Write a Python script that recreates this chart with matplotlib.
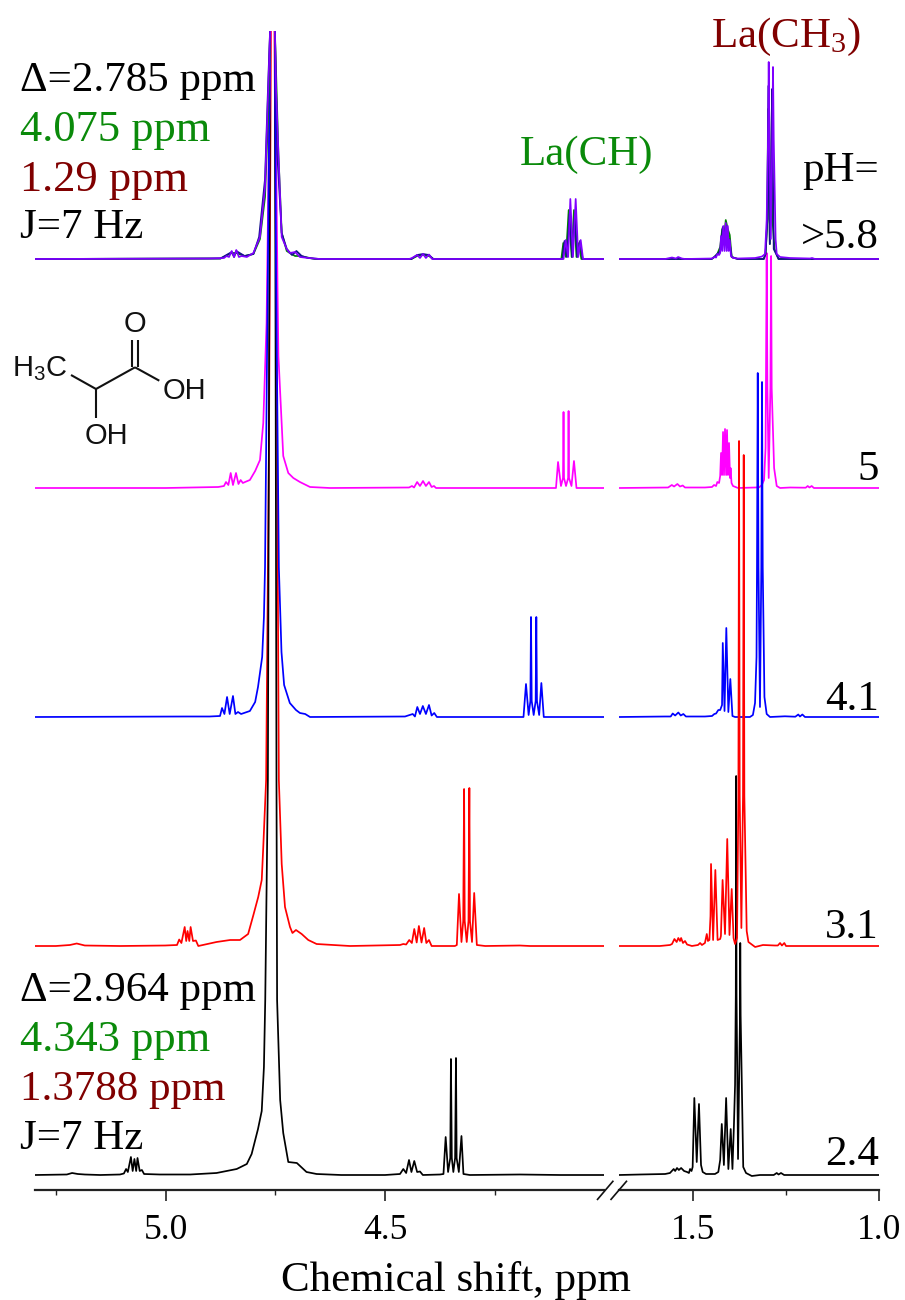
import numpy as np
import matplotlib
matplotlib.use("Agg")
import matplotlib.pyplot as plt
from matplotlib.lines import Line2D

W, H = 905, 1300
SERIF = "Liberation Serif"
SANS = "Liberation Sans"

# ----- baseline offset of each spectrum (same units as the intensities)
off_24, off_31, off_41, off_50, off_58 = 15, 244, 473, 702, 931

# ----- pH 2.4 (black)
l24_ppm = [5.297,5.225,5.213,5.20,5.184,5.149,5.104,5.095,5.090,5.086,5.079,5.075,5.071,5.067,5.064,5.059,5.054,5.049,5.013,4.944,4.884,4.838,4.815,4.804,4.7895,4.781,4.776,4.773,4.767,4.762,4.7565,4.751,4.7474,4.746,4.739,4.732,4.7205,4.701,4.679,4.656,4.60,4.50,4.466,4.4585,4.452,4.4455,4.440,4.4335,4.427,4.4205,4.414,4.375,4.367,4.362,4.3565,4.3515,4.350,4.348,4.3445,4.3405,4.3385,4.337,4.332,4.326,4.3215,4.307,4.193,4.101,4.003]
l24_int = [0,0.5,2,1,0.5,0,0.5,1.5,6,3,18,4,16,4,17,4,5,1,0.5,0.5,2,6,11,21,46,64,108,175,395,1144,1600,1144,395,175,75,42,13,12,3,1,0,0,1,6,2,15,3,14,3,3.5,0,0.5,1,38,3,17,116,17,3,17,117,17,3,39,1,0,0.5,0,0]
r24_ppm = [1.699,1.6425,1.575,1.562,1.552,1.548,1.543,1.538,1.532,1.524,1.516,1.511,1.508,1.504,1.501,1.4965,1.490,1.484,1.4785,1.474,1.465,1.441,1.432,1.427,1.4227,1.417,1.411,1.405,1.3987,1.394,1.390,1.387,1.385,1.384,1.383,1.379,1.3737,1.373,1.372,1.365,1.3575,1.342,1.32,1.283,1.275,1.270,1.2635,1.255,1.159,1.0]
r24_int = [0,0.5,1,2,6,4,7,5,7,4,3,2,6,4,8,77,13,71,10,3,1,1,3,15,51,10,77,6,46,6,50,90,180,399,180,16,160,232,160,8,2,-1,0,0,2,0.5,2,0,0,0]

# ----- pH 3.1 (red)
l31_ppm = [5.297,5.25,5.218,5.2025,5.184,5.104,5.001,4.974,4.969,4.964,4.9565,4.953,4.950,4.946,4.943,4.9376,4.931,4.9255,4.884,4.853,4.8305,4.812,4.800,4.789,4.781,4.7775,4.771,4.7645,4.760,4.755,4.752,4.746,4.742,4.7355,4.728,4.7166,4.711,4.703,4.690,4.675,4.656,4.580,4.466,4.4585,4.452,4.445,4.439,4.4335,4.428,4.423,4.417,4.411,4.406,4.400,4.394,4.341,4.3366,4.3316,4.326,4.322,4.320,4.3186,4.314,4.310,4.308,4.3066,4.302,4.297,4.291,4.272,4.193,4.170,4.003]
l31_int = [0,0,1,2.5,0.5,0,0.5,1,6.5,3,19,5,15,5,19,5,5.5,0,4,6,6,12,31,49,66,99,166,500,915,1300,915,500,166,82,39,19,13,16,12,6,2,0,1,2,1.5,6,3,17,3.5,20,3.5,18,3,6,0,0,1,52,4,25,157,25,4,25,158,25,4,53,1,0,0.5,0,0]
r31_ppm = [1.699,1.589,1.562,1.5565,1.550,1.544,1.5395,1.535,1.532,1.527,1.5215,1.516,1.503,1.4866,1.481,1.476,1.468,1.463,1.460,1.456,1.453,1.4516,1.446,1.440,1.434,1.427,1.425,1.4205,1.414,1.408,1.402,1.396,1.391,1.387,1.3817,1.378,1.3763,1.3745,1.370,1.3656,1.3637,1.362,1.3557,1.351,1.333,1.312,1.2796,1.272,1.266,1.261,1.2546,1.25,1.0]
r31_int = [0,0,1,2,7,4,8,5,8,3,5,1.5,0,1,3,1,3,12,5,6,30,82,6,76,6,7,10,66,12,107,11,57,8,2,8,150,505,150,18,150,491,150,15,4,-1,1,0.5,0.5,3,0.5,3,0,0]

# ----- pH 4.1 (blue)
l41_ppm = [5.297,4.95,4.90,4.876,4.8715,4.866,4.860,4.854,4.8465,4.841,4.835,4.828,4.808,4.796,4.7895,4.780,4.776,4.7735,4.767,4.762,4.7565,4.751,4.7485,4.742,4.736,4.730,4.717,4.703,4.694,4.682,4.671,4.4546,4.437,4.432,4.4266,4.4205,4.414,4.407,4.400,4.394,4.388,4.382,4.1847,4.179,4.173,4.169,4.1676,4.166,4.1615,4.157,4.1555,4.154,4.149,4.144,4.1385,4.003]
l41_int = [0,0.5,0.5,1,9,3,20,3,21,3,5,3,6,15,30,60,100,150,450,686,1000,686,450,150,65,32,14,7,4,3,0,0.5,3,0.5,10,3,11,3,12,1.5,4,0,0,33,2,16,100,16,2,16,100,16,2,34,0,0]
r41_ppm = [1.699,1.575,1.56,1.5546,1.548,1.5395,1.533,1.526,1.519,1.468,1.449,1.4427,1.438,1.432,1.427,1.422,1.420,1.4153,1.4105,1.405,1.3997,1.394,1.387,1.347,1.339,1.3333,1.3293,1.328,1.326,1.324,1.320,1.3164,1.3145,1.3126,1.308,1.302,1.293,1.253,1.225,1.217,1.2125,1.206,1.199,1.0]
r41_int = [0,0.5,0.5,3.5,1.5,4.5,1.5,3,0.5,0.5,1,3,3.5,7,7,12,74,6,89,5,38,1,0,0,2,14,60,150,344,150,10,150,335,150,20,3,0,0.7,0.3,2.5,0.5,2.5,0,0]

# ----- pH 5 (magenta)
l50_ppm = [5.297,5.00,4.88,4.867,4.8624,4.857,4.8517,4.8465,4.8396,4.834,4.829,4.824,4.819,4.808,4.796,4.785,4.7775,4.770,4.7645,4.761,4.7565,4.751,4.745,4.743,4.732,4.7205,4.709,4.694,4.671,4.6255,4.4455,4.4387,4.434,4.427,4.4205,4.4136,4.407,4.400,4.394,4.3886,4.384,4.1107,4.106,4.0993,4.0947,4.0935,4.0924,4.0878,4.083,4.082,4.081,4.0754,4.0697,4.064,4.003]
l50_int = [0,0,1,2,6,3,15,3,15,4,8,5,6,8,17,28,65,165,350,457,700,457,200,132,32,15,10,6,1,0,0.5,2,0.5,6,2,7,2,6,1,2,0,0,26,2,10,76,10,2,10,77,10,2,27,0,0]
r50_ppm = [1.699,1.567,1.557,1.551,1.542,1.535,1.5277,1.5215,1.468,1.449,1.4435,1.438,1.4347,1.43,1.427,1.4247,1.422,1.4193,1.4167,1.414,1.411,1.4086,1.406,1.4032,1.4005,1.399,1.3965,1.3925,1.379,1.333,1.322,1.315,1.309,1.305,1.304,1.302,1.300,1.2965,1.292,1.290,1.2885,1.282,1.275,1.266,1.239,1.197,1.1917,1.187,1.181,1.175,1.0]
r50_int = [0,0.5,3,1.5,4,1.5,2.5,0.5,0.5,1,3,2,6,5,12,35,13,56,13,59,13,58,13,45,10,20,5,2,0,0.5,0.7,3,8,40,100,235,100,10,100,232,100,20,2,0,0.5,0.3,2,0.5,2,0,0]

# ----- pH > 5.8 (three overlaid spectra: green, navy, purple)
l58g_ppm = [5.297,4.875,4.8494,4.839,4.82,4.80,4.785,4.7735,4.766,4.762,4.7565,4.751,4.743,4.7355,4.724,4.717,4.705,4.694,4.66,4.44,4.427,4.4136,4.400,4.39,4.0985,4.094,4.088,4.0817,4.075,4.0697,4.064,4.0583,4.053,4.003]
l58g_int = [0,0.5,6,6,3,5,20,62,150,228,400,228,105,26,8,6,3,3,0,0,3,4,3,0,0,16,2,49,2,49,2,16,0,0]
l58n_ppm = [5.297,4.875,4.8494,4.844,4.839,4.82,4.80,4.787,4.7735,4.766,4.762,4.7565,4.751,4.7455,4.7355,4.724,4.712,4.702,4.690,4.675,4.65,4.44,4.427,4.4136,4.400,4.39,4.096,4.0913,4.0856,4.0799,4.0739,4.0678,4.062,4.056,4.050,4.003]
l58n_int = [0,0.5,7,2,8,3,5,22,80,180,228,400,228,105,26,10,4,8,3,1,0,0,4,5,4,0,0,18,2,45,2,45,2,18,0,0]
r58g_ppm = [1.699,1.45,1.4427,1.4347,1.427,1.4215,1.4167,1.412,1.4066,1.4013,1.396,1.38,1.31,1.305,1.300,1.2984,1.2935,1.288,1.2865,1.281,1.27,1.0]
r58g_int = [0,0,2,5,12,30,20,39,30,24,2,0,0,5,40,150,15,150,40,10,0,0]
r58n_ppm = [1.699,1.45,1.4427,1.4347,1.427,1.4200,1.4167,1.4120,1.4085,1.4030,1.396,1.38,1.31,1.305,1.3000,1.2975,1.2935,1.2895,1.2875,1.283,1.27,1.0]
r58n_int = [0,0,2,5,8,32,15,34,15,20,2,0,0,5,40,173,15,100,170,10,0,0]
l58p_ppm = [5.297,4.90,4.867,4.861,4.8555,4.8494,4.844,4.839,4.833,4.827,4.815,4.800,4.785,4.7735,4.766,4.762,4.7565,4.751,4.7485,4.743,4.7355,4.724,4.717,4.705,4.694,4.675,4.648,4.445,4.4387,4.427,4.4205,4.4136,4.407,4.400,4.393,4.0935,4.0886,4.083,4.078,4.072,4.0658,4.060,4.0544,4.049,4.003]
l58p_int = [0,0.5,1,3,2,8,2,9,2,3,2,6,22,72,172,228,400,228,172,105,22,10,6,7,2,1,0,0,1,4,1,5,1,4.5,0,0,19,2,60,2,60,2,19,0,0]
r58p_ppm = [1.699,1.575,1.5565,1.5457,1.540,1.53,1.5215,1.449,1.4435,1.438,1.4347,1.43,1.427,1.4247,1.4215,1.4186,1.4153,1.412,1.4094,1.4066,1.404,1.4013,1.398,1.3925,1.379,1.333,1.3145,1.3065,1.302,1.2984,1.2965,1.2946,1.2908,1.2868,1.285,1.283,1.278,1.275,1.266,1.239,1.1855,1.18,1.172,1.0]
r58p_int = [0,0,1.5,0.5,2,0.5,0,0.5,2,1.5,5,4,6,23,8,33,8,36,8,33,8,19,3,1,0.5,1,2.5,5,39,120,197,120,20,120,192,120,20,5,2,1,0.5,1,0,0]

# ----- axis ticks
major_left, major_right = [5.0, 4.5], [1.5, 1.0]
minor_left, minor_right = [5.25, 4.75, 4.25], [1.25]
tick_left, tick_right = ["5.0", "4.5"], ["1.5", "1.0"]

# ----- draw order and colours
BLACK, RED, BLUE, MAGENTA, PURPLE, NAVY, GREEN, WINE = "#000000", "#ff0000", "#0000ff", "#ff00ff", "#7f00ff", "#14108c", "#008000", "#800000"
left_traces = [(l31_ppm, l31_int, off_31, RED), (l24_ppm, l24_int, off_24, BLACK), (l50_ppm, l50_int, off_50, MAGENTA), (l41_ppm, l41_int, off_41, BLUE),
               (l58g_ppm, l58g_int, off_58, GREEN), (l58n_ppm, l58n_int, off_58, NAVY), (l58p_ppm, l58p_int, off_58, PURPLE)]
right_traces = [(r50_ppm, r50_int, off_50, MAGENTA), (r58g_ppm, r58g_int, off_58, GREEN), (r58n_ppm, r58n_int, off_58, NAVY),
                (r58p_ppm, r58p_int, off_58, PURPLE), (r41_ppm, r41_int, off_41, BLUE), (r24_ppm, r24_int, off_24, BLACK), (r31_ppm, r31_int, off_31, RED)]

fig = plt.figure(figsize=(W / 100, H / 100), dpi=100, facecolor="white")

def make_axes(x0, x1, xlim, majors, minors, labels, traces):
    ax = fig.add_axes([x0 / W, 1 - 1190 / H, (x1 - x0) / W, (1190 - 31) / H])
    ax.patch.set_alpha(0)
    ax.set_xlim(*xlim)
    ax.set_ylim(0, 1159)
    for s in ("top", "left", "right"):
        ax.spines[s].set_visible(False)
    ax.spines["bottom"].set_linewidth(1.6)
    ax.spines["bottom"].set_color("#222222")
    ax.set_yticks([])
    ax.set_xticks(majors)
    ax.set_xticklabels(labels, family=SERIF, fontsize=25.5)
    ax.set_xticks(minors, minor=True)
    ax.tick_params(axis="x", which="major", length=7.7, width=1.2, pad=9.5, color="#222222")
    ax.tick_params(axis="x", which="minor", length=3.4, width=1.0, color="#222222")
    for px, ints, off, col in traces:
        ax.plot(px, np.asarray(ints) + off, color=col, lw=1.25, solid_joinstyle="round")
    return ax

make_axes(35, 604, (5.2975, 4.0013), major_left, minor_left, tick_left, left_traces)
make_axes(619, 879, (1.699, 1.0), major_right, minor_right, tick_right, right_traces)

def T(x, y, s, color=BLACK, size=31, ha="left", family=SERIF):
    fig.text(x / W, 1 - y / H, s, color=color, fontsize=size, ha=ha, va="center", family=family)

def L(xs, ys, lw=1.5, color="#111111"):
    fig.add_artist(Line2D([x / W for x in xs], [1 - y / H for y in ys], color=color, lw=lw, solid_capstyle="butt"))

# axis break marks
L([597, 613.4], [1200, 1180.7], lw=1.2)
L([610.5, 627], [1200, 1180.7], lw=1.2)

# annotations
T(20, 81, "\u0394=2.785 ppm")
T(20, 130, "4.075 ppm", "#0a8a0a", size=32)
T(20, 180, "1.29 ppm", WINE, size=32)
T(20, 228, "J=7 Hz")
T(20, 991, "\u0394=2.964 ppm")
T(20, 1040, "4.343 ppm", "#0a8a0a", size=32)
T(20, 1090, "1.3788 ppm", WINE)
T(20, 1139, "J=7 Hz")
T(586, 155, "La(CH)", "#0a8a0a", ha="center")
T(786, 37, r"La(CH$\mathregular{_3}$)", WINE, ha="center")
T(879, 171, "pH=", ha="right")
T(879, 238, ">5.8", ha="right")
T(879, 470, "5", ha="right")
T(879, 700, "4.1", ha="right")
T(879, 928, "3.1", ha="right")
T(879, 1155, "2.4", ha="right")
T(456, 1280, "Chemical shift, ppm", size=31, ha="center")

# lactic acid structure
L([71, 96], [375, 389])
L([96, 135], [389, 367.3])
L([132.3, 132.3], [367.3, 340])
L([138.3, 138.3], [367.3, 340])
L([135, 159.3], [367.3, 380.7])
L([96, 96], [389, 418])
T(134.5, 323.5, "O", size=21, ha="center", family=SANS, color="#111111")
T(184, 391, "OH", size=21, ha="center", family=SANS, color="#111111")
T(106, 436, "OH", size=21, ha="center", family=SANS, color="#111111")
T(12, 369, r"H$\mathregular{_3}$C", size=21, family=SANS, color="#111111")

fig.savefig("out.png", dpi=100, facecolor="white")
